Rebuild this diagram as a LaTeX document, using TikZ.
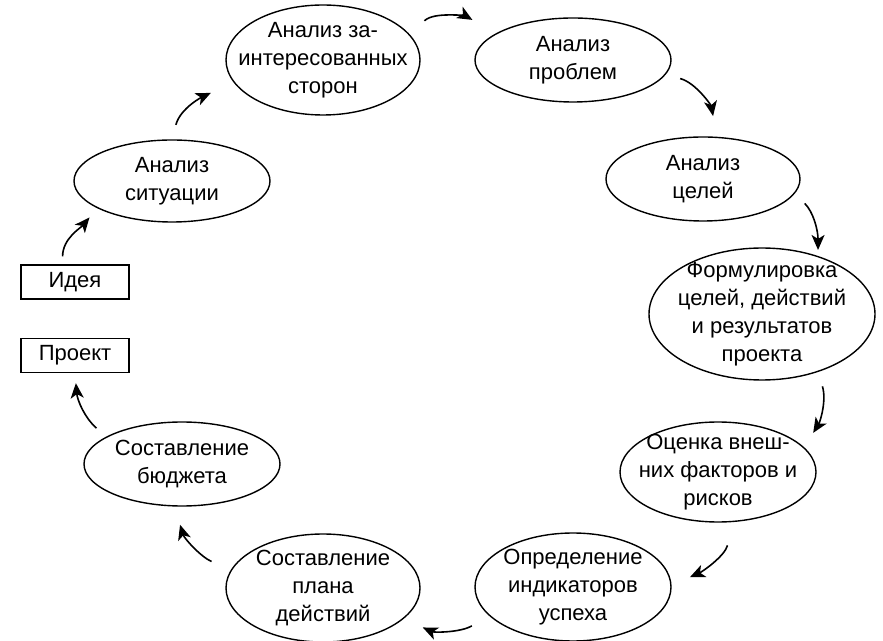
\documentclass[tikz,border=0pt]{standalone}
\usepackage{fontspec}
\setmainfont{Liberation Sans}
\usetikzlibrary{arrows.meta, positioning, shapes.geometric}

\begin{document}
\begin{tikzpicture}[x=1pt, y=1pt,
	stage/.style={ellipse, draw, line width=1.4pt, inner sep=-40pt, align=center, font=\fontsize{22}{28}\selectfont},
	tag/.style={rectangle, draw, line width=1.4pt, minimum width=108pt, minimum height=34pt, font=\fontsize{22}{28}\selectfont},
	flow/.style={line width=1.6pt, -{Stealth[length=15pt, width=13pt, inset=4pt]}}]

\useasboundingbox (0,0) rectangle (883,640);

% start and end
\node[tag] (idea) at (75,358)   {Идея};
\node[tag] (proj) at (75,284.5) {Проект};

% the cycle
\node[stage, minimum width=196pt, minimum height=82pt]  (sit)    at (172,459) {Анализ\\ситуации};
\node[stage, minimum width=194pt, minimum height=110pt] (stake)  at (323,580) {Анализ за-\\интересованных\\сторон};
\node[stage, minimum width=196pt, minimum height=84pt]  (prob)   at (573,580) {Анализ\\проблем};
\node[stage, minimum width=194pt, minimum height=84pt]  (goal)   at (703,461) {Анализ\\целей};
\node[stage, minimum width=226pt, minimum height=132pt] (form)   at (762,326) {Формулировка\\целей, действий\\и результатов\\проекта};
\node[stage, minimum width=196pt, minimum height=100pt] (risk)   at (718,168) {Оценка внеш-\\них факторов и\\рисков};
\node[stage, minimum width=196pt, minimum height=108pt] (ind)    at (573,53)  {Определение\\индикаторов\\успеха};
\node[stage, minimum width=194pt, minimum height=108pt] (plan)   at (323,52)  {Составление\\плана\\действий};
\node[stage, minimum width=196pt, minimum height=84pt]  (budget) at (182,176) {Составление\\бюджета};

% arrows: from/anchor/to/anchor/out/in/gap at start/gap at end
\foreach \u/\ua/\v/\va/\ao/\ai/\gs/\ge in {
	idea/125/sit/200/90/230/8/12,
	sit/north/stake/194/75/205/15/25,
	stake/16/prob/161/45/150/20/27,
	prob/351/goal/72/-15/100/15/21,
	goal/351/form/46/-45/90/14/6,
	form/314/risk/16/-73/58/15/17,
	risk/287/ind/1/-104/24/24/20,
	ind/199/plan/339/-150/-24/20/21,
	plan/169/budget/260/156/-73/21/19,
	budget/160/proj/south/140/-85/13/10} {
	\draw[flow, shorten <=\gs pt, shorten >=\ge pt] (\u.\ua) to[out=\ao, in=\ai] (\v.\va);
}

\end{tikzpicture}
\end{document}
